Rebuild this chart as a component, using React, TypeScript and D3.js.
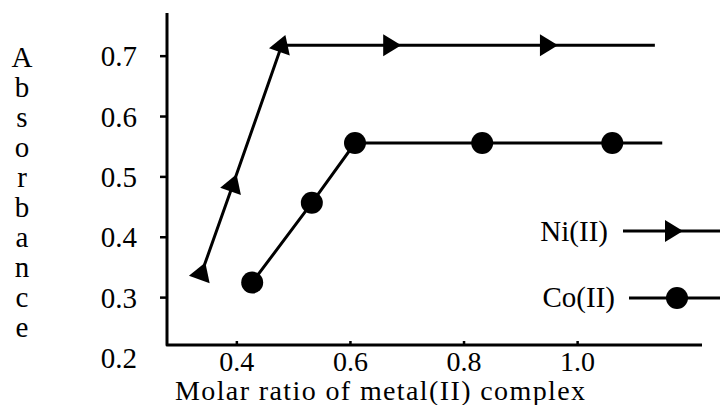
import React from "react";
import * as d3 from "d3";

const niX = [0.338, 0.393, 0.479, 0.67, 0.946, 1.136];
const niY = [0.341, 0.487, 0.718, 0.718, 0.718, 0.718];
const niMarkers = [0, 1, 2, 3, 4];

const coX = [0.427, 0.532, 0.608, 0.832, 1.061, 1.149];
const coY = [0.325, 0.457, 0.556, 0.556, 0.556, 0.556];
const coMarkers = [0, 1, 2, 3, 4];

const xTicks = [0.4, 0.6, 0.8, 1.0];
const xTickLabels = ["0.4", "0.6", "0.8", "1.0"];
const yTicks = [0.3, 0.4, 0.5, 0.6, 0.7];
const yTickLabels = ["0.2", "0.3", "0.4", "0.5", "0.6", "0.7"];
const yLabelValues = [0.2, 0.3, 0.4, 0.5, 0.6, 0.7];

const xTitle = "Molar ratio of metal(II) complex";
const yTitle = "Absorbance";
const legendLabels = ["Ni(II)", "Co(II)"];

const W = 720;
const H = 405;
const FONT = "'Liberation Serif', 'DejaVu Serif', serif";

export default function App() {
  const x = d3.scaleLinear().domain([0.277, 1.219]).range([167, 702]);
  const y = d3.scaleLinear().domain([0.2215, 0.7715]).range([345, 13]);
  const line = d3
    .line<[number, number]>()
    .x((d) => x(d[0]))
    .y((d) => y(d[1]));

  const ni: [number, number][] = niX.map((v, i) => [v, niY[i]]);
  const co: [number, number][] = coX.map((v, i) => [v, coY[i]]);

  const tri = "M11,0 L-7,-11 L-7,11 Z";

  const angleAt = (pts: [number, number][], i: number) => {
    const a = i === 0 ? pts[0] : pts[i - 1];
    const b = i === 0 ? pts[1] : pts[i];
    return (Math.atan2(y(b[1]) - y(a[1]), x(b[0]) - x(a[0])) * 180) / Math.PI;
  };

  const [x0] = x.range();
  const [yBottom, yTop] = y.range();
  const xEnd = x.range()[1];

  return (
    <svg
      width={W}
      height={H}
      style={{ position: "absolute", left: 0, top: 0, background: "#fff" }}
      fontFamily={FONT}
    >
      <rect width={W} height={H} fill="#fff" />
      {/* axes */}
      <path
        d={`M${x0},${yTop} V${yBottom} H${xEnd}`}
        fill="none"
        stroke="#000"
        strokeWidth={3}
        strokeLinejoin="round"
      />
      {yTicks.map((t) => (
        <line key={t} x1={x0 - 7} x2={x0} y1={y(t)} y2={y(t)} stroke="#000" strokeWidth={2.5} />
      ))}
      {xTicks.map((t) => (
        <line key={t} x1={x(t)} x2={x(t)} y1={yBottom - 4} y2={yBottom} stroke="#000" strokeWidth={2.5} />
      ))}
      {yLabelValues.map((t, i) => (
        <text key={t} x={137} y={y(t)} dy="0.35em" textAnchor="end" fontSize={29}>
          {yTickLabels[i]}
        </text>
      ))}
      {xTicks.map((t, i) => (
        <text key={t} x={x(t)} y={371} textAnchor="middle" fontSize={28}>
          {xTickLabels[i]}
        </text>
      ))}
      <text x={175} y={400} fontSize={28} textLength={410} lengthAdjust="spacing">
        {xTitle}
      </text>
      {yTitle.split("").map((c, i) => (
        <text key={i} x={22} y={67 + i * 30} textAnchor="middle" fontSize={29}>
          {c}
        </text>
      ))}

      {/* series */}
      <path d={line(ni) || ""} fill="none" stroke="#000" strokeWidth={3} />
      <path d={line(co) || ""} fill="none" stroke="#000" strokeWidth={3} />
      {niMarkers.map((i) => (
        <path
          key={i}
          d={tri}
          fill="#000"
          transform={`translate(${x(ni[i][0])},${y(ni[i][1])}) rotate(${angleAt(ni, i)})`}
        />
      ))}
      {coMarkers.map((i) => (
        <circle key={i} cx={x(co[i][0])} cy={y(co[i][1])} r={11} fill="#000" />
      ))}

      {/* legend */}
      <text x={608} y={241} textAnchor="end" fontSize={29}>
        {legendLabels[0]}
      </text>
      <line x1={623} x2={720} y1={231} y2={231} stroke="#000" strokeWidth={3} />
      <path d={tri} fill="#000" transform="translate(672,231)" />
      <text x={615} y={307} textAnchor="end" fontSize={29}>
        {legendLabels[1]}
      </text>
      <line x1={629} x2={720} y1={298} y2={298} stroke="#000" strokeWidth={3} />
      <circle cx={677} cy={298} r={11} fill="#000" />
    </svg>
  );
}
